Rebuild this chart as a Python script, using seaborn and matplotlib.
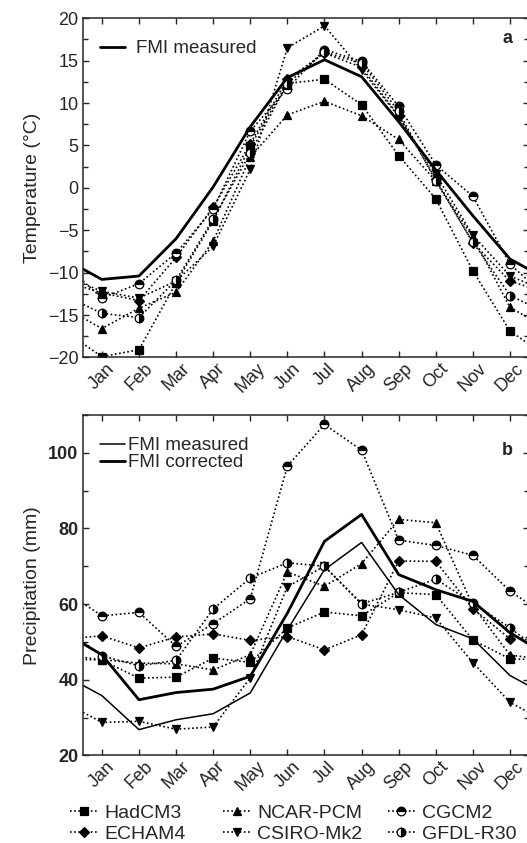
import matplotlib
matplotlib.use("Agg")
import matplotlib.pyplot as plt
from matplotlib.ticker import MultipleLocator
import seaborn as sns
import pandas as pd

months = ["Jan", "Feb", "Mar", "Apr", "May", "Jun", "Jul", "Aug", "Sep", "Oct", "Nov", "Dec"]
models = ["HadCM3", "ECHAM4", "NCAR-PCM", "CSIRO-Mk2", "CGCM2", "GFDL-R30"]

# Panel a: temperature (°C)
temp_fmi = [-10.8, -10.4, -6.0, 0.1, 7.2, 13.0, 15.1, 13.1, 7.8, 2.1, -3.3, -8.4]
temp_hadcm3 = [-19.9, -19.1, -11.2, -3.9, 4.9, 12.3, 12.8, 9.8, 3.8, -1.3, -9.8, -16.9]
temp_echam4 = [-12.4, -13.3, -8.2, -2.3, 5.2, 12.8, 15.9, 14.2, 8.5, 1.0, -6.5, -11.0]
temp_ncar = [-16.6, -14.2, -12.3, -6.3, 3.6, 8.6, 10.2, 8.5, 5.7, 0.8, -5.8, -14.1]
temp_csiro = [-12.2, -13.0, -11.0, -6.9, 2.2, 16.5, 19.1, 13.9, 8.4, 1.6, -5.6, -10.4]
temp_cgcm2 = [-13.0, -11.3, -7.7, -2.5, 6.7, 11.7, 16.3, 14.9, 9.6, 2.7, -1.0, -9.0]
temp_gfdl = [-14.8, -15.3, -10.9, -3.7, 4.1, 12.3, 16.0, 14.7, 9.0, 0.8, -6.4, -12.7]

# Panel b: precipitation (mm)
prec_fmi_measured = [35.8, 26.8, 29.4, 31.0, 36.5, 53.2, 69.1, 76.3, 62.5, 54.6, 50.8, 41.1]
prec_fmi_corrected = [46.6, 34.7, 36.6, 37.5, 40.9, 57.6, 76.6, 83.7, 67.8, 63.8, 60.7, 52.4]
prec_hadcm3 = [45.2, 40.4, 40.7, 45.7, 44.6, 53.7, 57.9, 56.9, 63.0, 62.5, 50.5, 45.5]
prec_echam4 = [51.6, 48.4, 51.3, 52.1, 50.4, 51.4, 47.9, 51.9, 71.4, 71.3, 58.8, 50.8]
prec_ncar = [45.3, 44.4, 44.2, 42.6, 46.6, 68.5, 64.7, 70.7, 82.4, 81.5, 59.5, 46.5]
prec_csiro = [28.7, 29.0, 26.9, 27.5, 40.5, 64.6, 70.0, 60.0, 58.5, 56.3, 44.5, 34.0]
prec_cgcm2 = [56.9, 57.8, 48.8, 54.8, 61.4, 96.5, 107.5, 100.7, 76.9, 75.5, 72.9, 63.4]
prec_gfdl = [46.3, 43.7, 45.1, 58.7, 66.9, 70.9, 70.0, 60.1, 63.1, 66.6, 60.3, 53.7]

temp_models = [temp_hadcm3, temp_echam4, temp_ncar, temp_csiro, temp_cgcm2, temp_gfdl]
prec_models = [prec_hadcm3, prec_echam4, prec_ncar, prec_csiro, prec_cgcm2, prec_gfdl]

sns.set_style("ticks")
plt.rcParams["font.family"] = ["Liberation Sans", "DejaVu Sans"]
plt.rcParams["axes.linewidth"] = 1.1

marker_style = {
    "HadCM3": dict(marker="s", fillstyle="full"),
    "ECHAM4": dict(marker="D", fillstyle="full", markersize=5.5),
    "NCAR-PCM": dict(marker="^", fillstyle="full"),
    "CSIRO-Mk2": dict(marker="v", fillstyle="full"),
    "CGCM2": dict(marker="o", fillstyle="top"),
    "GFDL-R30": dict(marker="o", fillstyle="right"),
}


def wrapped(vals):
    """Cyclic series: previous Dec before Jan, next Jan after Dec."""
    x = list(range(0, 14))
    y = [vals[-1]] + list(vals) + [vals[0]]
    return pd.DataFrame({"month": x, "value": y})


fig = plt.figure(figsize=(5.27, 8.43), dpi=100)
ax_a = fig.add_axes([0.158, 0.576, 0.845, 0.4024])
ax_b = fig.add_axes([0.158, 0.104, 0.845, 0.4037])

for ax, series in ((ax_a, temp_models), (ax_b, prec_models)):
    for name, vals in zip(models, series):
        st = dict(markersize=6.2)
        st.update(marker_style[name])
        df = wrapped(vals)
        sns.lineplot(data=df, x="month", y="value", ax=ax, color="black",
                     linestyle=(0, (1, 1.5)), linewidth=1.2, sort=True,
                     markeredgecolor="black", markerfacecoloralt="white",
                     markeredgewidth=0.9, label=name, legend=False, **st)

# FMI lines
sns.lineplot(data=wrapped(temp_fmi), x="month", y="value", ax=ax_a, color="black",
             linewidth=2.0, legend=False)
sns.lineplot(data=wrapped(prec_fmi_measured), x="month", y="value", ax=ax_b, color="black",
             linewidth=1.1, legend=False)
sns.lineplot(data=wrapped(prec_fmi_corrected), x="month", y="value", ax=ax_b, color="black",
             linewidth=2.0, legend=False)

model_lines = ax_a.get_lines()[:6]

for ax in (ax_a, ax_b):
    ax.set_xlim(0.5, 12.5)
    ax.set_xticks(range(1, 13))
    ax.set_xticklabels(months, rotation=45, ha="center", va="top", fontsize=13)
    ax.set_xlabel("")
    ax.tick_params(axis="x", which="both", direction="in", top=True, bottom=True,
                   length=4, width=1.0, pad=2)
    ax.tick_params(axis="y", which="both", direction="in", left=True, right=True,
                   width=1.0)
    ax.tick_params(axis="y", which="major", length=4.5)
    ax.tick_params(axis="y", which="minor", length=3.5)
    for s in ax.spines.values():
        s.set_visible(True)
        s.set_linewidth(1.1)

ax_a.set_ylim(-20, 20)
ax_a.yaxis.set_major_locator(MultipleLocator(5))
ax_a.yaxis.set_minor_locator(MultipleLocator(2.5))
ax_a.set_yticks(range(-20, 21, 5))
ax_a.set_yticklabels(["\u221220", "\u221215", "\u221210", "\u22125", "0", "5", "10", "15", "20"],
                     fontsize=13)
ax_a.set_ylabel("Temperature (°C)", fontsize=14, labelpad=5)
ax_a.text(0.965, 0.94, "a", transform=ax_a.transAxes, fontsize=13, fontweight="bold",
          ha="right", va="center")

ax_b.set_ylim(20, 110)
ax_b.yaxis.set_major_locator(MultipleLocator(20))
ax_b.yaxis.set_minor_locator(MultipleLocator(10))
ax_b.set_yticks(range(20, 101, 20))
ax_b.set_yticklabels(["20", "40", "60", "80", "100"], fontsize=13, fontweight="bold")
ax_b.set_ylabel("Precipitation (mm)", fontsize=14, labelpad=5)
ax_b.text(0.965, 0.895, "b", transform=ax_b.transAxes, fontsize=13, fontweight="bold",
          ha="right", va="center")

# Legends
fmi_a = ax_a.get_lines()[-1]
ax_a.legend([fmi_a], ["FMI measured"], loc="upper left", bbox_to_anchor=(0.0, 0.985),
            frameon=False, fontsize=13.5, handlelength=1.3, handletextpad=0.6,
            borderaxespad=0.5)

lines_b = ax_b.get_lines()
ax_b.legend([lines_b[-2], lines_b[-1]], ["FMI measured", "FMI corrected"], loc="upper left",
            bbox_to_anchor=(0.0, 0.985), frameon=False, fontsize=13.5, handlelength=1.3,
            handletextpad=0.2, labelspacing=0.0, borderaxespad=0.5)

# Model legend: three columns, each placed separately
col_x = [0.133, 0.423, 0.736]
for i, x0 in enumerate(col_x):
    fig.legend(model_lines[2 * i:2 * i + 2], models[2 * i:2 * i + 2], loc="lower left",
               bbox_to_anchor=(x0, 0.0), ncol=1, frameon=False, fontsize=14,
               handlelength=1.4, handletextpad=0.35, labelspacing=0.2,
               borderaxespad=0.0, borderpad=0.0)

fig.savefig("out.png", dpi=100)
